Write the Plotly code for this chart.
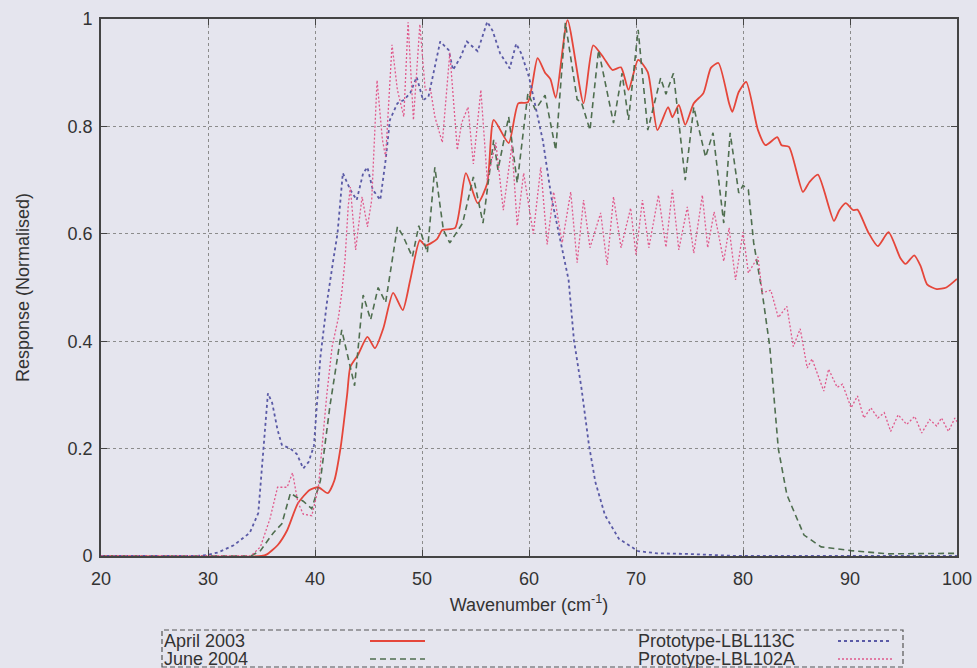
"""Normalised spectral response of the filter set, gnuplot-style line chart."""

import plotly.graph_objects as go

# ---------------------------------------------------------------------------
# Data (wavenumber in cm^-1, normalised response)
# ---------------------------------------------------------------------------
april_x = [20, 35.0, 35.5, 36.5, 37.4, 38.4, 39.5, 40.3, 41.2, 41.8, 42.4, 43.0, 43.3,
           44.0, 44.9, 45.6, 46.4, 47.3, 48.2, 48.9, 49.8, 50.3, 51.4, 51.9, 53.1,
           54.1, 55.2, 56.1, 56.7, 58.1, 59.0, 59.9, 60.8, 61.5, 62.0, 62.5, 63.6,
           65.1, 66.0, 67.0, 67.8, 68.6, 69.3, 70.2, 71.1, 72.0, 73.0, 73.4, 74.0,
           74.6, 75.4, 76.3, 77.0, 77.7, 78.7, 79.0, 79.6, 80.3, 81.4, 82.1, 83.2,
           83.6, 84.3, 85.6, 86.2, 87.0, 88.5, 89.0, 89.6, 90.3, 90.7, 91.7, 92.6,
           93.6, 94.7, 95.2, 96.0, 96.6, 97.2, 98.1, 99.0, 100]
april_y = [0, 0, 0.003, 0.02, 0.048, 0.098, 0.123, 0.128, 0.117, 0.14, 0.203, 0.3, 0.352,
           0.374, 0.408, 0.387, 0.425, 0.49, 0.458, 0.514, 0.588, 0.578, 0.59, 0.607, 0.611,
           0.713, 0.657, 0.694, 0.812, 0.769, 0.843, 0.845, 0.927, 0.9, 0.888, 0.853, 0.998,
           0.843, 0.951, 0.927, 0.905, 0.91, 0.868, 0.924, 0.901, 0.793, 0.836, 0.817, 0.84,
           0.803, 0.843, 0.862, 0.909, 0.918, 0.843, 0.827, 0.864, 0.883, 0.793, 0.765, 0.78,
           0.765, 0.762, 0.678, 0.696, 0.71, 0.624, 0.644, 0.657, 0.644, 0.645, 0.603, 0.577,
           0.603, 0.555, 0.544, 0.56, 0.54, 0.506, 0.497, 0.5, 0.516]

june_x = [20, 34.0, 34.9, 35.8, 36.1, 36.9, 37.7, 38.9, 39.7, 40.5, 41.4, 42.5, 43.7,
          44.5, 45.2, 45.9, 46.6, 47.7, 48.2, 49.1, 49.7, 50.5, 51.2, 52.0, 52.6, 53.8,
          54.8, 55.7, 56.7, 57.1, 58.1, 58.9, 59.9, 60.6, 61.5, 62.5, 63.4, 64.5, 64.9,
          65.7, 66.5, 67.9, 68.7, 69.3, 70.2, 71.1, 72.3, 72.8, 73.5, 74.6, 75.4, 76.5,
          77.2, 78.2, 78.8, 79.6, 80.0, 80.5, 81.0, 81.8, 82.5, 83.3, 84.1, 85.7, 87.3,
          90.1, 93.5, 100]
june_y = [0, 0, 0.01, 0.035, 0.043, 0.06, 0.117, 0.102, 0.088, 0.14, 0.28, 0.421, 0.317,
          0.486, 0.44, 0.5, 0.472, 0.613, 0.597, 0.557, 0.615, 0.565, 0.724, 0.607, 0.583, 0.62,
          0.706, 0.62, 0.775, 0.719, 0.818, 0.695, 0.862, 0.831, 0.858, 0.756, 0.993, 0.85, 0.845,
          0.793, 0.942, 0.806, 0.899, 0.812, 0.98, 0.793, 0.89, 0.86, 0.899, 0.7, 0.836, 0.743,
          0.788, 0.62, 0.788, 0.676, 0.69, 0.682, 0.583, 0.49, 0.39, 0.2, 0.114, 0.039, 0.017,
          0.01, 0.004, 0.005]

lbl113c_x = [20, 29.0, 30.0, 31.0, 32.4, 33.9, 34.7, 35.2, 35.6, 36.0, 36.5, 36.9, 37.7,
             38.3, 38.9, 39.4, 39.9, 40.5, 41.1, 41.7, 42.1, 42.6, 43.3, 43.9, 44.5, 44.9,
             45.4, 46.1, 46.6, 47.0, 47.7, 48.3, 48.9, 49.5, 50.1, 50.6, 51.1, 51.7, 52.5,
             52.9, 53.6, 54.2, 55.2, 55.6, 56.1, 56.6, 57.3, 58.2, 58.8, 59.3, 60.0, 60.5,
             61.3, 62.1, 62.8, 63.3, 63.7, 64.2, 64.9, 65.6, 66.2, 67.1, 68.4, 70.2, 72.0,
             74.6, 79.4, 100]
lbl113c_y = [0, 0, 0.002, 0.007, 0.02, 0.043, 0.08, 0.2, 0.303, 0.285, 0.235, 0.207, 0.2,
             0.19, 0.163, 0.175, 0.205, 0.37, 0.47, 0.55, 0.6, 0.713, 0.682, 0.663, 0.713, 0.724,
             0.682, 0.663, 0.737, 0.812, 0.843, 0.849, 0.862, 0.892, 0.849, 0.855, 0.899, 0.958,
             0.942, 0.905, 0.929, 0.958, 0.94, 0.965, 0.995, 0.978, 0.936, 0.908, 0.954, 0.935,
             0.892, 0.847, 0.773, 0.667, 0.598, 0.547, 0.514, 0.402, 0.313, 0.207, 0.138, 0.076,
             0.032, 0.009, 0.005, 0.004, 0.0, 0]

lbl102a_x = [20, 34.0, 34.9, 35.8, 36.5, 37.4, 37.9, 38.4, 38.9, 39.7, 40.3, 41.1, 41.6,
             42.2, 42.5, 42.8, 43.1, 43.3, 43.8, 44.0, 44.4, 44.9, 45.3, 45.8, 46.3, 46.6,
             47.2, 47.7, 48.3, 48.7, 49.2, 49.8, 50.3, 50.8, 51.2, 51.9, 52.6, 53.3, 53.7,
             54.3, 54.8, 55.5, 56.1, 56.9, 57.6, 58.4, 58.9, 59.5, 60.4, 61.1, 61.7, 62.3,
             63.1, 63.9, 64.5, 65.1, 65.7, 66.7, 67.3, 67.9, 68.6, 69.5, 70.0, 70.6, 71.2,
             72.1, 72.8, 73.4, 74.0, 74.8, 75.4, 76.2, 76.7, 77.3, 78.2, 78.7, 79.3, 80.0,
             80.5, 81.4, 81.8, 82.6, 83.3, 84.1, 84.7, 85.35, 86.0, 86.45, 87.55, 88.0, 88.8,
             89.3, 90.1, 90.7, 91.3, 91.95, 92.6, 93.2, 93.8, 94.5, 95.3, 96.05, 96.7, 97.45,
             98.1, 98.55, 99.2, 99.8, 100]
lbl102a_y = [0, 0, 0.017, 0.07, 0.128, 0.128, 0.155, 0.1, 0.078, 0.075, 0.125, 0.3, 0.39,
             0.445, 0.49, 0.55, 0.65, 0.687, 0.57, 0.6, 0.669, 0.613, 0.663, 0.886, 0.775, 0.743,
             0.952, 0.868, 0.818, 0.994, 0.812, 0.99, 0.868, 0.868, 0.818, 0.77, 0.937, 0.756, 0.806,
             0.836, 0.73, 0.868, 0.7, 0.77, 0.644, 0.765, 0.615, 0.713, 0.6, 0.724, 0.58, 0.678,
             0.583, 0.678, 0.546, 0.663, 0.574, 0.639, 0.542, 0.669, 0.574, 0.648, 0.561, 0.663,
             0.574, 0.672, 0.575, 0.682, 0.57, 0.65, 0.564, 0.672, 0.574, 0.641, 0.549, 0.611,
             0.514, 0.603, 0.527, 0.557, 0.49, 0.495, 0.444, 0.465, 0.39, 0.423, 0.35, 0.367,
             0.307, 0.348, 0.314, 0.32, 0.276, 0.298, 0.257, 0.276, 0.257, 0.267, 0.232, 0.263,
             0.245, 0.26, 0.229, 0.254, 0.242, 0.257, 0.232, 0.257, 0.25]

x_ticks = [20, 30, 40, 50, 60, 70, 80, 90, 100]
y_ticks = [0, 0.2, 0.4, 0.6, 0.8, 1]

# ---------------------------------------------------------------------------
# Styling
# ---------------------------------------------------------------------------
_PAGE = "#e5e5ee"
_INK = "#333333"
_FONT = "Liberation Sans, Arial, sans-serif"
_SIZE = 18

# plot-area pixel box in the 977x668 canvas
_L, _R, _T, _B = 101, 957, 19, 556


def _px(x):
    return (x - _L) / (_R - _L)


def _py(y):
    return (_B - y) / (_B - _T)


series = [
    ("April 2003", april_x, april_y, dict(color="#e5463a", width=1.8, dash="solid", shape="spline", smoothing=0.6)),
    ("June 2004", june_x, june_y, dict(color="#4f6e4f", width=1.6, dash="6px,4px")),
    ("Prototype-LBL113C", lbl113c_x, lbl113c_y, dict(color="#5a5aa6", width=1.8, dash="3px,3px")),
    ("Prototype-LBL102A", lbl102a_x, lbl102a_y, dict(color="#e05a8c", width=1.3, dash="2px,2px")),
]

fig = go.Figure()
for name, xs, ys, line in series:
    fig.add_trace(go.Scatter(x=xs, y=ys, mode="lines", name=name, line=line,
                             showlegend=False))

# gnuplot-like legend: label text then line sample, in a dashed box
legend_rows = [
    ("April 2003", 163, 370, 425, 641),
    ("June 2004", 163, 370, 425, 659),
    ("Prototype-LBL113C", 637, 838, 892, 641),
    ("Prototype-LBL102A", 637, 838, 892, 659),
]
shapes = [dict(type="rect", xref="paper", yref="paper",
               x0=_px(162), x1=_px(903), y0=_py(667), y1=_py(630),
               line=dict(color="#555555", width=1.2, dash="5px,3px"))]
annotations = []
for (label, tx, sx0, sx1, ty), (_, _, _, line) in zip(legend_rows, series):
    annotations.append(dict(text=label, x=_px(tx), y=_py(ty), xref="paper", yref="paper",
                            xanchor="left", yanchor="middle", showarrow=False, borderpad=0,
                            font=dict(size=_SIZE, color=_INK, family=_FONT)))
    shapes.append(dict(type="line", xref="paper", yref="paper",
                       x0=_px(sx0), x1=_px(sx1), y0=_py(ty), y1=_py(ty),
                       line=dict(color=line["color"], width=line["width"], dash=line["dash"])))

axis_common = dict(
    showgrid=True, gridcolor="#8c8c8c", gridwidth=1, griddash="dot",
    showline=True, linecolor="#444444", linewidth=1.6, mirror="ticks",
    ticks="inside", ticklen=6, tickwidth=1.4, tickcolor="#444444",
    zeroline=False, tickfont=dict(size=_SIZE, color=_INK, family=_FONT),
)

fig.update_layout(
    width=977, height=668,
    paper_bgcolor=_PAGE, plot_bgcolor=_PAGE,
    margin=dict(l=_L, r=977 - _R, t=_T, b=668 - _B, autoexpand=False),
    font=dict(family=_FONT, color=_INK),
    xaxis=dict(range=[20, 100], tickvals=x_ticks, ticklabelstandoff=6,
               title=dict(text="Wavenumber (cm<sup>-1</sup>)", font=dict(size=_SIZE), standoff=10),
               **axis_common),
    yaxis=dict(range=[0, 1], tickvals=y_ticks, ticklabelstandoff=3,
               title=dict(text="Response (Normalised)", font=dict(size=_SIZE), standoff=33),
               **axis_common),
    shapes=shapes,
    annotations=annotations,
)

# drop the browser's default page margin so the figure fills the window
fig.write_html(
    "out.html",
    config={"displayModeBar": False},
    post_script=f"document.body.style.margin='0';document.body.style.background='{_PAGE}';",
)
